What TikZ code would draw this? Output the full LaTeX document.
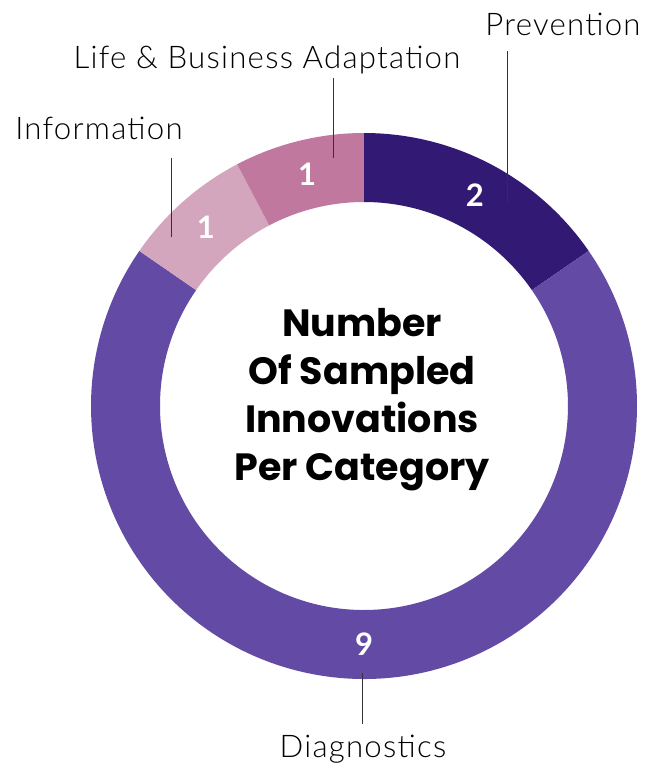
\documentclass[tikz,border=0pt]{standalone}
\usepackage{fontspec}
\setmainfont{Lato}
\newfontfamily\labelfont{Lato Light}[LetterSpace=4]
\newfontfamily\titlefont{Poppins}
\definecolor{prevcol}{HTML}{321973}
\definecolor{diagcol}{HTML}{634BA5}
\definecolor{infocol}{HTML}{D3A6BD}
\definecolor{lifecol}{HTML}{C0789F}
\definecolor{leadcol}{HTML}{333333}
\begin{document}
\begin{tikzpicture}[x=0.5pt, y=0.5pt,
    label/.style={font=\labelfont\fontsize{15.6}{17}\selectfont, text=black, anchor=base, inner sep=0pt},
    count/.style={font=\fontsize{15.5}{18}\selectfont\bfseries, text=white},
    leader/.style={draw=leadcol, line width=0.5pt}]
  \useasboundingbox (-364,-362) rectangle (292,406);
  % ring segments, outer radius 273, inner radius 204
  \fill [prevcol] (90:273) arc [start angle=90, end angle=34.615, radius=273]
    -- (34.615:204) arc [start angle=34.615, end angle=90, radius=204] -- cycle;
  \fill [diagcol] (34.615:273) arc [start angle=34.615, end angle=-214.615, radius=273]
    -- (-214.615:204) arc [start angle=-214.615, end angle=34.615, radius=204] -- cycle;
  \fill [infocol] (145.385:273) arc [start angle=145.385, end angle=117.692, radius=273]
    -- (117.692:204) arc [start angle=117.692, end angle=145.385, radius=204] -- cycle;
  \fill [lifecol] (117.692:273) arc [start angle=117.692, end angle=90, radius=273]
    -- (90:204) arc [start angle=90, end angle=117.692, radius=204] -- cycle;
  % counts
  \node [count] (n2) at (62.3:238.5) {2};
  \node [count] (n9) at (-90:238.5) {9};
  \node [count] (n1a) at (131.5:238.5) {1};
  \node [count] (n1b) at (103.8:238.5) {1};
  % centre title
  \node [align=center, font=\titlefont\bfseries\fontsize{19}{24}\selectfont] (title) at (-2,6)
    {Number\\Of Sampled\\Innovations\\Per Category};
  % labels
  \node [label] (prev) at (199,371) {Prevention};
  \node [label] (life) at (-97,338) {Life \& Business Adaptation};
  \node [label] (info) at (-265,267) {Information};
  \node [label] (diag) at (-1,-351) {Diagnostics};
  \coordinate (prevtop) at (144,355);
  \coordinate (prevend) at (144,204);
  \coordinate (lifetop) at (-30,328);
  \coordinate (lifeend) at (-30,248);
  \coordinate (infotop) at (-192,248);
  \coordinate (infoend) at (-192,169);
  \coordinate (diagtop) at (-1,-267);
  \coordinate (diagend) at (-1,-318);
  \draw [leader] (prevtop) -- (prevend);
  \draw [leader] (lifetop) -- (lifeend);
  \draw [leader] (infotop) -- (infoend);
  \draw [leader] (diagtop) -- (diagend);
\end{tikzpicture}
\end{document}
